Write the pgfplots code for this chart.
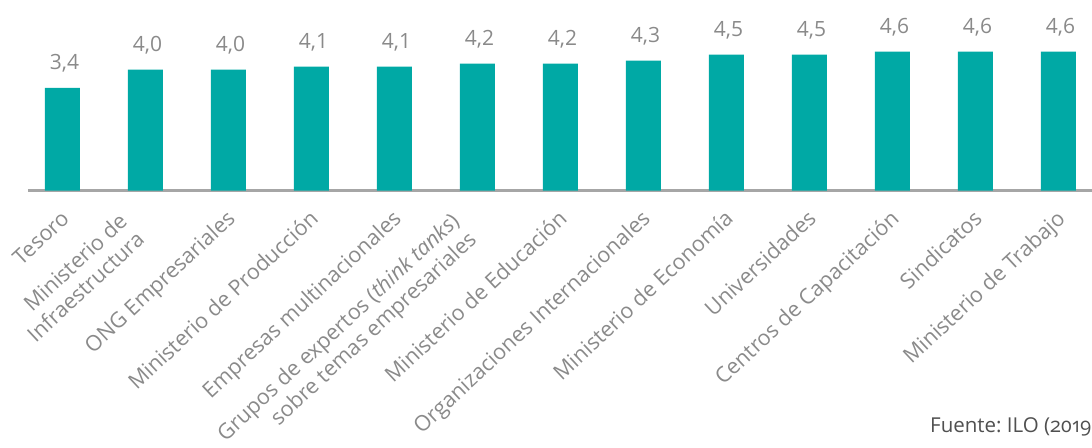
\documentclass[border=0pt]{standalone}
\usepackage{pgfplots}
\pgfplotsset{compat=1.18}
\usetikzlibrary{calc}
\usepackage{fontspec}
\setmainfont{Open Sans}
\newfontfamily\srcfont[Numbers=OldStyle]{Open Sans}
\definecolor{barteal}{RGB}{0,169,165}
\definecolor{lblgray}{RGB}{138,138,138}
\definecolor{axgray}{RGB}{166,166,166}
\definecolor{srcgray}{RGB}{80,80,80}
\frenchspacing
\newcommand{\twoline}[2]{\raisebox{15pt}{\begin{tabular}[t]{@{}r@{}}#1\\#2\end{tabular}}\hspace*{20pt}}
\begin{document}
\begin{tikzpicture}
\begin{axis}[
  scale only axis, width=1065pt, height=151pt,
  xmin=-0.4157, xmax=12.4157, ymin=0, ymax=5,
  axis x line=bottom, axis y line=none,
  x axis line style={-, draw=axgray, line width=2.5pt},
  xtick={0,...,12}, major tick length=0pt, ytick=\empty,
  xticklabels={Tesoro, \twoline{Ministerio de}{Infraestructura}, ONG Empresariales, Ministerio de Producción, Empresas multinacionales, \twoline{Grupos de expertos (\textit{think tanks})}{sobre temas empresariales}, Ministerio de Educación, Organizaciones Internacionales, Ministerio de Economía, Universidades, Centros de Capacitación, Sindicatos, Ministerio de Trabajo},
  xticklabel style={font=\fontsize{21.5}{25}\selectfont, text=lblgray, xshift=-3pt, yshift=-18pt, rotate=43, anchor=north east, inner sep=0pt, text height=16pt, text depth=5pt},
  ybar, bar width=35pt, clip=false,
  nodes near coords={\pgfmathprintnumber[fixed,fixed zerofill,precision=1,use comma,assume math mode=true]{\pgfplotspointmeta}},
  every node near coord/.append style={font=\fontsize{21}{25}\selectfont, text=lblgray, anchor=base, yshift=18.5pt, xshift=2pt, inner sep=0pt},
]
\addplot[fill=barteal, draw=none] coordinates {(0,3.4) (1,4.0) (2,4.0) (3,4.1) (4,4.1) (5,4.2) (6,4.2) (7,4.3) (8,4.5) (9,4.5) (10,4.6) (11,4.6) (12,4.6)};
\coordinate (O) at (axis cs:0,0);
\end{axis}
\pgfresetboundingbox
\path[use as bounding box] ($(O)+(-62.5pt,-256.5pt)$) rectangle ($(O)+(1029.5pt,190.5pt)$);
\node[anchor=base west, font=\srcfont\fontsize{20.5}{24}\selectfont, text=srcgray, inner sep=0pt] at ($(O)+(867.5pt,-241.8pt)$) {Fuente: ILO (2019)};
\end{tikzpicture}
\end{document}
